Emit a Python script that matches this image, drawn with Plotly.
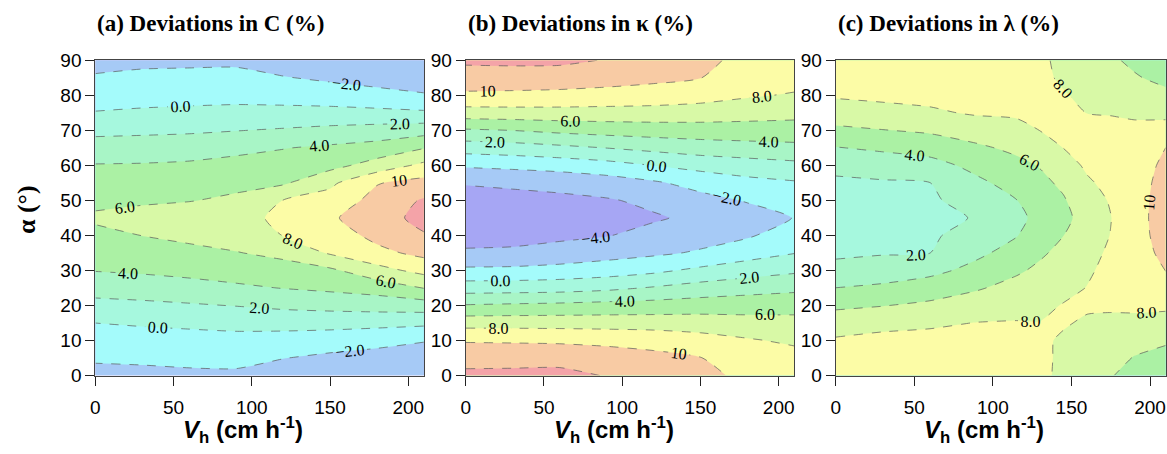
import plotly.graph_objects as go

# ---------------- data ----------------
alpha = [0, 5, 10, 15, 20, 25, 30, 35, 40, 45, 50, 55, 60, 65, 70, 75, 80, 85, 90]

# Panel (a) deviations in C (%), one list per Vh column
vh_a = [0, 30, 60, 90, 120, 150, 180, 210]
dev_C = [
    [-2.6, -1.75, -0.88, 0.0, 1.41, 2.78, 4.07, 4.79, 5.51, 6.3, 5.55, 4.83, 4.10, 2.87, 1.51, 0.09, -0.86, -1.78, -2.7],
    [-2.53, -1.65, -0.76, 0.19, 1.58, 3.0, 4.26, 5.13, 6.02, 6.8, 5.69, 4.92, 4.15, 2.95, 1.62, 0.27, -0.70, -1.57, -2.43],
    [-2.38, -1.52, -0.66, 0.35, 1.80, 3.30, 4.53, 5.51, 6.43, 7.3, 5.90, 5.10, 4.29, 3.11, 1.73, 0.40, -0.62, -1.50, -2.39],
    [-2.35, -1.47, -0.58, 0.52, 2.06, 3.68, 4.85, 5.91, 6.86, 7.6, 6.42, 5.42, 4.58, 3.52, 1.94, 0.51, -0.57, -1.46, -2.36],
    [-3.1, -1.95, -0.76, 0.64, 2.4, 4.05, 5.2, 6.48, 8.05, 8.25, 8.03, 5.74, 4.89, 3.92, 2.19, 0.57, -0.74, -1.89, -3.0],
    [-3.5, -2.43, -0.99, 0.64, 2.63, 4.38, 5.63, 8.2, 8.95, 9.75, 8.8, 7.6, 5.37, 4.32, 2.51, 0.57, -0.96, -2.33, -3.5],
    [-3.6, -2.8, -1.36, 0.55, 2.84, 4.83, 7.3, 9.47, 10.54, 11.0, 10.64, 9.89, 6.8, 4.77, 2.81, 0.47, -1.33, -2.8, -3.5],
    [-3.7, -2.9, -1.91, 0.4, 3.03, 6.05, 8.6, 10.52, 11.82, 12.7, 12.22, 10.66, 8.47, 5.9, 3.17, 0.3, -1.87, -2.8, -3.6],
]

# Panel (b) deviations in kappa (%)
vh_b = [0, 30, 60, 90, 120, 150, 180, 210]
dev_kappa = [
    [12.5, 11.22, 9.85, 7.24, 4.14, 1.07, -1.58, -3.74, -4.7, -5.5, -4.73, -3.88, -1.74, 0.89, 3.76, 7.13, 9.67, 11.09, 12.35],
    [12.55, 11.24, 9.8, 7.24, 4.31, 1.13, -1.52, -3.67, -4.6, -5.3, -4.6, -3.67, -1.5, 1.14, 4.02, 7.22, 9.6, 11.09, 12.43],
    [12.6, 11.29, 9.71, 7.21, 4.46, 1.24, -1.29, -3.27, -4.38, -5.0, -4.42, -3.43, -1.19, 1.56, 4.45, 7.27, 9.49, 11.03, 12.4],
    [11.9, 10.86, 9.58, 7.15, 4.67, 1.58, -0.93, -2.78, -4.08, -4.6, -4.17, -2.97, -0.71, 2.03, 4.77, 7.24, 9.33, 10.76, 11.9],
    [11.3, 10.52, 9.31, 7.12, 4.8, 2.17, -0.41, -2.33, -3.43, -4.2, -3.6, -2.27, 0.02, 2.54, 4.98, 7.18, 9.16, 10.42, 11.2],
    [10.6, 10.06, 8.78, 7.02, 5.0, 2.79, 0.44, -1.78, -2.76, -3.6, -2.62, -1.32, 0.67, 3.0, 5.09, 7.06, 8.77, 10.04, 10.35],
    [9.5, 9.0, 8.19, 6.77, 5.12, 3.24, 1.12, -0.85, -2.23, -2.8, -1.87, -0.59, 1.10, 3.27, 5.13, 6.81, 8.21, 8.9, 9.6],
    [9.6, 8.67, 7.7, 6.62, 5.29, 3.55, 1.68, -0.06, -1.0, -1.95, -1.0, -0.2, 1.49, 3.47, 5.16, 6.58, 7.83, 8.74, 9.6],
]

# Panel (c) deviations in lambda (%)
vh_c = [0, 30, 60, 90, 115, 130, 145, 160, 175, 190, 210]
dev_lambda = [
    [9.3, 8.9, 8.2, 7.17, 5.61, 4.02, 2.53, 1.71, 1.25, 0.8, 1.25, 1.7, 2.46, 3.91, 5.57, 7.1, 8.2, 8.7, 9.2],
    [9.3, 9.0, 8.55, 7.44, 5.94, 4.37, 2.93, 1.87, 1.46, 1.05, 1.44, 1.82, 2.82, 4.35, 5.94, 7.39, 8.4, 8.9, 9.3],
    [9.4, 9.1, 8.6, 7.71, 6.39, 4.96, 3.48, 1.99, 1.7, 1.4, 1.69, 1.98, 3.31, 4.77, 6.29, 7.74, 8.5, 9.0, 9.3],
    [9.3, 9.0, 8.6, 8.05, 6.95, 5.83, 4.59, 3.62, 2.88, 2.15, 2.88, 3.62, 4.55, 5.68, 6.94, 8.2, 8.6, 8.9, 9.1],
    [8.8, 8.6, 8.4, 8.1, 7.38, 6.59, 5.74, 4.73, 3.91, 3.6, 3.96, 4.7, 5.49, 6.42, 7.58, 8.2, 8.4, 8.55, 8.65],
    [8.4, 8.3, 8.2, 8.05, 7.58, 6.97, 6.36, 5.74, 5.09, 4.44, 4.98, 5.52, 6.11, 7.06, 8.02, 8.25, 8.3, 8.3, 8.3],
    [7.6, 7.75, 7.85, 8.1, 8.1, 7.5, 7.0, 6.49, 5.99, 5.53, 5.83, 6.37, 7.2, 8.03, 8.25, 8.3, 8.1, 7.8, 7.6],
    [7.0, 7.3, 7.6, 7.85, 8.15, 8.05, 7.75, 7.4, 7.1, 6.76, 7.2, 7.75, 8.3, 8.55, 8.4, 7.98, 7.7, 7.4, 7.0],
    [6.1, 6.7, 7.2, 7.7, 8.2, 8.5, 8.5, 8.3, 8.05, 7.95, 8.15, 8.5, 8.8, 8.9, 8.5, 7.9, 7.3, 6.8, 6.3],
    [5.4, 5.9, 6.7, 7.6, 8.3, 8.9, 9.3, 9.45, 9.5, 9.5, 9.5, 9.5, 9.4, 9.1, 8.45, 7.7, 6.9, 6.2, 5.6],
    [5.0, 5.25, 6.29, 7.33, 8.33, 9.26, 10.04, 10.3, 10.5, 10.6, 10.55, 10.4, 10.25, 10.02, 8.74, 7.52, 6.48, 5.46, 5.0],
]

x_ticks = [0, 50, 100, 150, 200]
y_ticks = [0, 10, 20, 30, 40, 50, 60, 70, 80, 90]

panel_titles = ["(a) Deviations in C (%)", "(b) Deviations in κ (%)", "(c) Deviations in λ (%)"]

# band colours, from below -4 up to above 12
band_colors = ["#A6A6F4", "#A6CAF6", "#A4FBFB", "#A6F8DE", "#A8F5C6",
               "#ABF1A4", "#D8F9A6", "#FCFCA6", "#F8CBA4", "#F4A3A8"]

# ---------------- figure ----------------
n = len(band_colors)
colorscale = [[i / (n - 1), c] for i, c in enumerate(band_colors)]


def transpose(cols):
    return [list(r) for r in zip(*cols)]


panels = [(vh_a, dev_C), (vh_b, dev_kappa), (vh_c, dev_lambda)]
x_domains = [[0.0777, 0.3605], [0.3965, 0.6793], [0.7149, 0.9989]]
y_domain = [0.1557, 0.8839]

fig = go.Figure()
for k, (xv, cols) in enumerate(panels):
    sfx = "" if k == 0 else str(k + 1)
    fig.add_trace(go.Contour(
        x=xv, y=alpha, z=transpose(cols),
        xaxis="x" + sfx, yaxis="y" + sfx,
        colorscale=colorscale, zmin=-5, zmax=13, zauto=False,
        showscale=False,
        contours=dict(start=-4, end=12, size=2, coloring="fill",
                      showlabels=True, labelformat=".2r",
                      labelfont=dict(family="Liberation Serif, Times New Roman, serif",
                                     size=16, color="black")),
        line=dict(color="#5a5a5a", width=0.7, dash="dash", smoothing=0.6),
        hoverinfo="skip",
    ))

axis_common = dict(showgrid=False, zeroline=False, showline=True, mirror=True,
                   linecolor="#444", linewidth=1, ticks="outside", ticklen=9,
                   tickwidth=1, tickcolor="#222",
                   tickfont=dict(family="Liberation Sans, Arial, sans-serif",
                                 size=19, color="black"))

layout = dict(width=1167, height=454, autosize=False,
              margin=dict(l=0, r=0, t=0, b=0),
              paper_bgcolor="white", plot_bgcolor="white", showlegend=False)

for k in range(3):
    sfx = "" if k == 0 else str(k + 1)
    layout["xaxis" + sfx] = dict(axis_common, domain=x_domains[k], range=[0, 210],
                                 tickvals=x_ticks, anchor="y" + sfx,
                                 ticklabelstandoff=6)
    layout["yaxis" + sfx] = dict(axis_common, domain=y_domain, range=[0, 90],
                                 tickvals=y_ticks, anchor="x" + sfx)

annotations = []
for k in range(3):
    x0, x1 = x_domains[k]
    annotations.append(dict(
        text="<b>" + panel_titles[k] + "</b>", xref="paper", yref="paper",
        x=x0, y=0.968, xanchor="left", yanchor="middle", showarrow=False,
        font=dict(family="Liberation Serif, Times New Roman, serif", size=23, color="black")))
    annotations.append(dict(
        text="<b><i>V</i><sub>h</sub> (cm h<sup>-1</sup>)</b>", xref="paper", yref="paper",
        x=(x0 + x1) / 2 - 0.014, y=0.03, xanchor="center", yanchor="middle", showarrow=False,
        font=dict(family="Liberation Sans, Arial, sans-serif", size=24, color="black")))
annotations.append(dict(
    text="<b>α (°)</b>", xref="paper", yref="paper", x=0.018, y=0.54,
    xanchor="center", yanchor="middle", textangle=-90, showarrow=False,
    font=dict(family="Liberation Serif, Times New Roman, serif", size=26, color="black")))
layout["annotations"] = annotations

fig.update_layout(**layout)
fig.write_html("out.html")
